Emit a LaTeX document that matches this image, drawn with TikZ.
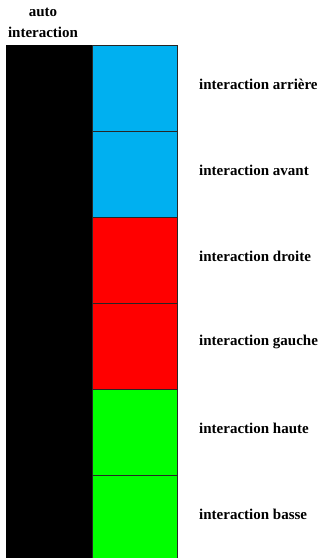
\documentclass[tikz,border=0pt]{standalone}
\usepackage{fontspec}
\setmainfont{Liberation Serif}
\usetikzlibrary{positioning}
\definecolor{cielblue}{RGB}{0,176,240}
\definecolor{vifred}{RGB}{255,0,0}
\definecolor{vifgreen}{RGB}{0,255,0}

\begin{document}
\begin{tikzpicture}[x=1pt,y=1pt,
  font=\fontsize{15}{21}\selectfont\bfseries,
  cell/.style={draw=black!85,line width=1pt,minimum width=85pt,minimum height=86pt,
               inner sep=0pt,outer sep=0pt},
  lbl/.style={anchor=west,inner sep=0pt,yshift=4pt},
]
  \useasboundingbox (0,0) rectangle (321,-558);
  % colonne d'auto interaction
  \node[fill=black,draw=black,minimum width=86pt,minimum height=516pt,
        inner sep=0pt,outer sep=0pt,anchor=north west] (self) at (6,-45) {};
  \node[align=center] (selflbl) at (43,-23) {auto\\interaction};

  % cases des voisins
  \node[cell,fill=cielblue,anchor=north west] (c1) at (92,-45) {};
  \node[cell,fill=cielblue,below=0pt of c1] (c2) {};
  \node[cell,fill=vifred,below=0pt of c2] (c3) {};
  \node[cell,fill=vifred,below=0pt of c3] (c4) {};
  \node[cell,fill=vifgreen,below=0pt of c4] (c5) {};
  \node[cell,fill=vifgreen,below=0pt of c5] (c6) {};

  \node[lbl,right=22pt of c1] (l1) {interaction arrière};
  \node[lbl,right=22pt of c2] (l2) {interaction avant};
  \node[lbl,right=22pt of c3] (l3) {interaction droite};
  \node[lbl,right=22pt of c4] (l4) {interaction gauche};
  \node[lbl,right=22pt of c5] (l5) {interaction haute};
  \node[lbl,right=22pt of c6] (l6) {interaction basse};
\end{tikzpicture}
\end{document}
